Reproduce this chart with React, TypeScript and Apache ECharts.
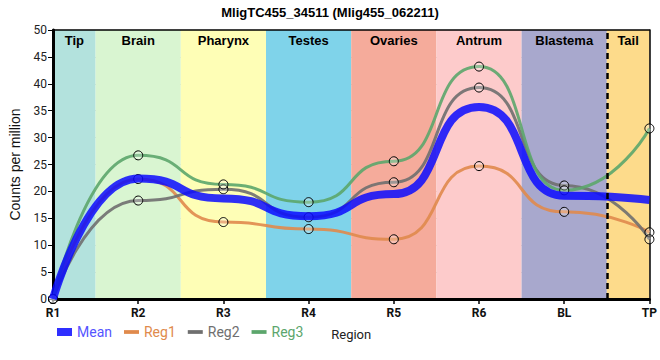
import React, { useEffect, useRef } from "react";
import * as echarts from "echarts";

const categories = ["R1", "R2", "R3", "R4", "R5", "R6", "BL", "TP"];
const reg1 = [0, 22.3, 14.3, 13.0, 11.1, 24.7, 16.2, 12.4];
const reg2 = [0, 18.3, 20.4, 15.2, 21.7, 39.3, 21.1, 11.1];
const reg3 = [0, 26.7, 21.3, 18.0, 25.6, 43.2, 20.2, 31.7];
const meanVals = [0, 22.4, 18.7, 15.4, 19.5, 35.7, 19.2, 18.4];

const regions = ["Tip", "Brain", "Pharynx", "Testes", "Ovaries", "Antrum", "Blastema", "Tail"];
const regionStart = [0, 0.5, 1.5, 2.5, 3.5, 4.5, 5.5, 6.5];
const regionEnd = [0.5, 1.5, 2.5, 3.5, 4.5, 5.5, 6.5, 7];
const regionColors = ["#b3e2dd", "#d9f5d1", "#fefeb6", "#7fd3ea", "#f5ab9b", "#fdcbcb", "#a8a8cd", "#fddb8b"];

const colMean = "rgba(10,10,255,0.85)";
const colReg1 = "#e08a4c";
const colReg2 = "#6f6f6f";
const colReg3 = "#5ca66c";

const toXY = (arr: number[]) => arr.map((v, i) => [i, v]);
const lineIcon = "path://M0,0h12v3h-12z";

export default function App() {
  const ref = useRef<HTMLDivElement>(null);
  useEffect(() => {
    if (!ref.current) return;
    const chart = echarts.init(ref.current, null, { renderer: "svg" });
    const regSeries = (name: string, data: number[], color: string) => ({
      name,
      type: "line",
      z: 3,
      data: toXY(data),
      smooth: 0.6,
      smoothMonotone: "x",
      symbol: "circle",
      symbolSize: 9,
      showSymbol: true,
      lineStyle: { color, width: 3, opacity: 0.9 },
      itemStyle: { color: "rgba(255,255,255,0.25)", borderColor: "#000", borderWidth: 1 },
      emphasis: { disabled: true },
    });
    chart.setOption({
      animation: false,
      title: {
        text: "MligTC455_34511 (Mlig455_062211)",
        left: "center",
        top: 1,
        textStyle: { fontSize: 13, fontWeight: "bold", color: "#000", fontFamily: "Liberation Sans, Arial, sans-serif" },
      },
      grid: { left: 50, right: 10, top: 30, bottom: 61 },
      legend: {
        left: 52,
        top: 320,
        itemGap: 12,
        itemWidth: 15,
        itemHeight: 8,
        textStyle: { fontSize: 14, fontFamily: "Roboto, sans-serif" },
        data: [
          { name: "Mean", icon: "rect", itemStyle: { color: colMean, borderWidth: 0 }, textStyle: { color: "#5555ff" } },
          { name: "Reg1", icon: lineIcon, itemStyle: { color: colReg1, borderWidth: 0 }, textStyle: { color: colReg1 } },
          { name: "Reg2", icon: lineIcon, itemStyle: { color: colReg2, borderWidth: 0 }, textStyle: { color: colReg2 } },
          { name: "Reg3", icon: lineIcon, itemStyle: { color: colReg3, borderWidth: 0 }, textStyle: { color: colReg3 } },
        ],
      },
      xAxis: [
        {
          type: "value",
          min: 0,
          max: 7,
          interval: 1,
          z: 1,
          name: "Region",
          nameLocation: "middle",
          nameGap: 29,
          nameTextStyle: { fontSize: 13, color: "#222", fontFamily: "Roboto, sans-serif" },
          axisLine: { show: true, onZero: false, lineStyle: { color: "#000", width: 3 } },
          axisTick: { show: true, length: 5, lineStyle: { color: "#000", width: 1.5 } },
          axisLabel: {
            fontSize: 12,
            fontWeight: "bold",
            color: "#111",
            margin: 8,
            fontFamily: "Roboto, sans-serif",
            formatter: (v: number) => categories[Math.round(v)] ?? "",
          },
          splitLine: { show: true, lineStyle: { color: "#c8c8c8", width: 1 } },
        },
        {
          type: "value",
          position: "top",
          min: 0,
          max: 7,
          z: 1,
          axisLine: { show: true, onZero: false, lineStyle: { color: "#000", width: 1.5 } },
          axisTick: { show: false },
          axisLabel: { show: false },
          splitLine: { show: false },
        },
      ],
      yAxis: [
        {
          type: "value",
          min: 0,
          max: 50,
          interval: 5,
          z: 1,
          name: "Counts per million",
          nameLocation: "middle",
          nameGap: 31,
          nameTextStyle: { fontSize: 14, color: "#111", fontFamily: "Liberation Sans, Arial, sans-serif" },
          axisLine: { show: true, onZero: false, lineStyle: { color: "#000", width: 3 } },
          axisTick: { show: true, length: 5, lineStyle: { color: "#000", width: 1 } },
          axisLabel: { fontSize: 12, color: "#222", margin: 6, fontFamily: "Roboto, sans-serif" },
          splitLine: { show: true, lineStyle: { color: "#c8c8c8", width: 1 } },
        },
        {
          type: "value",
          position: "right",
          min: 0,
          max: 50,
          z: 1,
          axisLine: { show: true, onZero: false, lineStyle: { color: "#000", width: 1.5 } },
          axisTick: { show: false },
          axisLabel: { show: false },
          splitLine: { show: false },
        },
      ],
      series: [
        {
          name: "bands",
          type: "line",
          z: 0,
          data: [[0, 0]],
          showSymbol: false,
          lineStyle: { opacity: 0 },
          silent: true,
          markArea: {
            silent: true,
            data: regions.map((r, i) => [
              {
                name: r,
                xAxis: regionStart[i],
                yAxis: 50,
                itemStyle: { color: regionColors[i] },
              },
              { xAxis: regionEnd[i], yAxis: 0 },
            ]),
            label: {
              show: true,
              position: "insideTop",
              distance: 4,
              fontSize: 13,
              fontWeight: "bold",
              color: "#000",
              fontFamily: "Liberation Sans, Arial, sans-serif",
            },
          },
          markLine: {
            silent: true,
            symbol: "none",
            label: { show: false },
            lineStyle: { color: "#000", type: [6, 4], width: 2.5 },
            data: [{ xAxis: 6.5 }],
          },
        },
        regSeries("Reg1", reg1, colReg1),
        regSeries("Reg2", reg2, colReg2),
        regSeries("Reg3", reg3, colReg3),
        {
          name: "Mean",
          type: "line",
          z: 4,
          data: toXY(meanVals),
          smooth: 0.6,
          smoothMonotone: "x",
          showSymbol: false,
          symbol: "none",
          lineStyle: { color: colMean, width: 8 },
          itemStyle: { color: colMean },
          emphasis: { disabled: true },
        },
      ],
    });
    return () => chart.dispose();
  }, []);
  return <div ref={ref} style={{ width: 660, height: 360, position: "absolute", left: 0, top: 0 }} />;
}
